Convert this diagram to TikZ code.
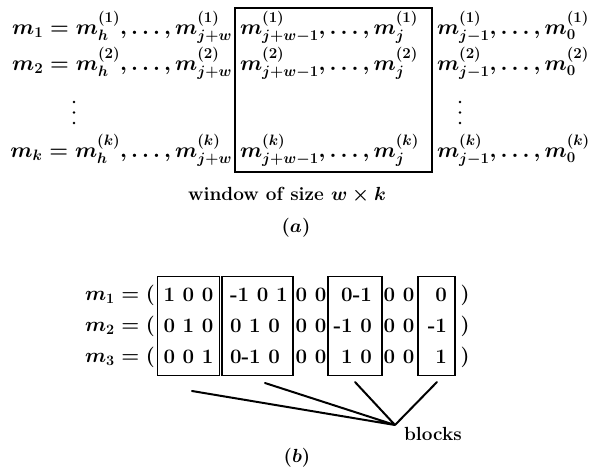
\RequirePackage{fix-cm}
\documentclass[tikz,border=0pt]{standalone}
\usepackage{amsmath}
\begin{document}
\begin{tikzpicture}[x=1pt,y=-1pt,
  every node/.style={inner sep=0pt,outer sep=0pt},
  mrow/.style={anchor=base west,font=\fontsize{21.5}{25}\selectfont\boldmath},
  mrowe/.style={anchor=base east,font=\fontsize{21.5}{25}\selectfont\boldmath},
  mrowb/.style={anchor=base west,font=\fontsize{20.5}{25}\selectfont\boldmath},
  captext/.style={anchor=base,font=\fontsize{19}{23}\selectfont\bfseries\boldmath},
  winbox/.style={draw,line width=1.8pt},
  blockbox/.style={draw,line width=1.8pt},
  digits/.style={font=\fontsize{20.5}{31}\selectfont\bfseries},
  pointer/.style={line width=2pt,line cap=round},
  vdot/.style={fill=black}]
\useasboundingbox (0,0) rectangle (592,472);
% (a)
\node[winbox,minimum width=197,minimum height=164] (win) at (333.5,90) {};
\node[mrowe] (L1) at (232,34) {$m_1 = m_h^{(1)},\ldots,m_{j+w}^{(1)}$};
\node[mrowe] (L2) at (232,70) {$m_2 = m_h^{(2)},\ldots,m_{j+w}^{(2)}$};
\node[mrowe] (Lk) at (232,157) {$m_k = m_h^{(k)},\ldots,m_{j+w}^{(k)}$};
\node[mrow] (W1) at (240,34) {$m_{j+w-1}^{(1)},\ldots,m_j^{(1)}$};
\node[mrow] (W2) at (240,70) {$m_{j+w-1}^{(2)},\ldots,m_j^{(2)}$};
\node[mrow] (Wk) at (240,157) {$m_{j+w-1}^{(k)},\ldots,m_j^{(k)}$};
\node[mrow] (R1) at (437,34) {$m_{j-1}^{(1)},\ldots,m_0^{(1)}$};
\node[mrow] (R2) at (437,70) {$m_{j-1}^{(2)},\ldots,m_0^{(2)}$};
\node[mrow] (Rk) at (437,157) {$m_{j-1}^{(k)},\ldots,m_0^{(k)}$};
\foreach \yy in {102,112.5,123} {
  \fill[vdot] (74,\yy) circle (1.4);
  \fill[vdot] (460,\yy) circle (1.4);
}
\node[captext] (wincap) at (287,200) {window of size $w \times k$};
\node[captext] (capa) at (296,232) {$(a)$};
% (b)
\node[mrowb] (M1) at (85,300) {$m_1 = ($};
\node[mrowb] (M2) at (85,331) {$m_2 = ($};
\node[mrowb] (M3) at (85,362) {$m_3 = ($};
\node[blockbox,minimum width=62,minimum height=99] (B1) at (188.5,326) {};
\node[blockbox,minimum width=71,minimum height=99] (B2) at (257.5,326) {};
\node[blockbox,minimum width=54,minimum height=99] (B3) at (355,326) {};
\node[blockbox,minimum width=37,minimum height=99] (B4) at (436.5,326) {};
\node[digits,align=center] (D1) at (B1.center) {1 0 0\\0 1 0\\0 0 1};
\node[digits,align=left,anchor=west] (D2) at (230,326) {-1 0 1\\0 1 0\\0-1 0};
\node[digits,align=center] (D3) at (311,326) {0 0\\0 0\\0 0};
\node[digits,align=right,anchor=east] (D4) at (372,326) {0-1\\-1 0\\1 0};
\node[digits,align=center] (D5) at (399,326) {0 0\\0 0\\0 0};
\node[digits,align=right,anchor=east] (D6) at (447,326) {0\\-1\\1};
\node[digits,align=center] (P) at (465,326) {)\\)\\)};
\coordinate (s1) at (192,391);
\coordinate (s2) at (265,383);
\coordinate (s3) at (355,382);
\coordinate (s4) at (437,382);
\coordinate (hub) at (395,425);
\draw[pointer] (s1) -- (hub) (s2) -- (hub) (s3) -- (hub) (s4) -- (hub);
\node[captext,anchor=base west] (blocks) at (404,440) {blocks};
\node[captext] (capb) at (297,462) {$(b)$};
\end{tikzpicture}
\end{document}
